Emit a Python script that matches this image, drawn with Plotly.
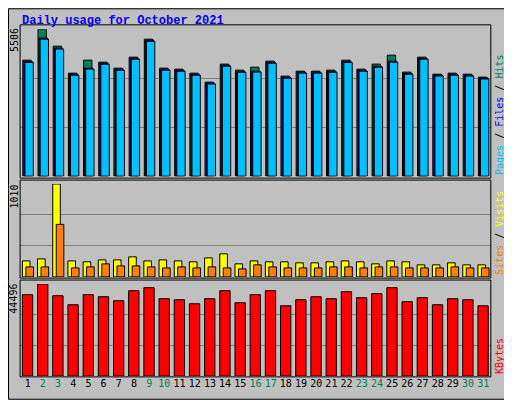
import plotly.graph_objects as go

days = list(range(1, 32))
weekend = [2, 3, 9, 10, 16, 17, 23, 24, 30, 31]

hits = [4345, 5506, 4870, 3858, 4345, 4270, 4046, 4458, 5132, 4046, 4008, 3858, 3521, 4195, 3971,
        4083, 4308, 3746, 3933, 3933, 3971, 4345, 4008, 4195, 4533, 3896, 4458, 3821, 3858, 3821, 3709]
files = [4300, 5170, 4800, 3820, 4046, 4230, 4010, 4420, 5090, 4010, 3970, 3820, 3490, 4160, 3930,
         3933, 4270, 3710, 3900, 3900, 3930, 4300, 3970, 4120, 4308, 3860, 4420, 3790, 3820, 3790, 3680]
pages = [4260, 5130, 4760, 3780, 4010, 4190, 3970, 4380, 5050, 3970, 3930, 3780, 3450, 4120, 3890,
         3900, 4230, 3670, 3860, 3860, 3890, 4260, 3930, 4080, 4270, 3820, 4380, 3750, 3780, 3750, 3640]
visits = [174, 196, 1010, 174, 164, 185, 185, 218, 174, 185, 174, 164, 207, 251, 142,
          174, 164, 164, 153, 153, 164, 174, 164, 142, 174, 164, 131, 131, 153, 131, 131]
sites = [109, 109, 571, 98, 109, 142, 120, 120, 109, 98, 109, 98, 109, 98, 87,
         131, 109, 98, 98, 98, 109, 109, 98, 109, 109, 98, 98, 98, 109, 98, 98]
kbytes = [39301, 44496, 38816, 34449, 39301, 38331, 36390, 41242, 42698, 37360, 36875, 34934, 37360,
          41242, 35420, 39301, 41242, 33964, 36875, 38331, 37360, 40757, 37846, 39786, 42698, 35905,
          37846, 34449, 37360, 36875, 33964]

mono = "DejaVu Sans Mono"
line = dict(color="black", width=1)

fig = go.Figure()

def bars(y, color, offset, width, xa, ya):
    fig.add_trace(go.Bar(x=days, y=y, marker=dict(color=color, line=line),
                         offset=offset, width=width, xaxis=xa, yaxis=ya))

# top panel: hits / files / pages
bars(hits, "#00805c", -0.32, 0.55, "x", "y")
bars(files, "#0000ff", -0.25, 0.55, "x", "y")
bars(pages, "#00c0ff", -0.18, 0.55, "x", "y")
# middle panel: visits / sites
bars(visits, "#ffff00", -0.35, 0.5, "x2", "y2")
bars(sites, "#ff8000", -0.12, 0.5, "x2", "y2")
# bottom panel: kbytes
bars(kbytes, "#ff0000", -0.35, 0.68, "x3", "y3")

ticktext = [f"<span style='color:#00805c'>{d}</span>" if d in weekend else str(d) for d in days]

xdom = [0.024, 0.958]
xbase = dict(range=[0.5, 31.5], domain=xdom, showgrid=False, zeroline=False,
             showticklabels=False, ticks="")
fig.update_layout(
    xaxis=dict(xbase, anchor="y"),
    xaxis2=dict(xbase, anchor="y2"),
    xaxis3=dict(xbase, anchor="y3", showticklabels=True, tickvals=days, ticktext=ticktext,
                tickangle=0, tickfont=dict(family=mono, size=10, color="black")),
    yaxis=dict(domain=[0.571, 0.946], range=[0, max(hits)],
               tickvals=[max(hits) / 3, 2 * max(hits) / 3], showticklabels=False,
               gridcolor="#808080", zeroline=False),
    yaxis2=dict(domain=[0.314, 0.551], range=[0, max(visits)],
                tickvals=[max(visits) / 3, 2 * max(visits) / 3], showticklabels=False,
                gridcolor="#808080", zeroline=False),
    yaxis3=dict(domain=[0.061, 0.296], range=[0, max(kbytes)],
                tickvals=[max(kbytes) / 3, 2 * max(kbytes) / 3], showticklabels=False,
                gridcolor="#808080", zeroline=False),
    barmode="overlay",
    showlegend=False,
    width=504, height=392,
    margin=dict(l=0, r=0, t=0, b=0),
    paper_bgcolor="#c0c0c0", plot_bgcolor="#c0c0c0",
)

# frames
shapes = [dict(type="rect", xref="paper", yref="paper", x0=0.001, x1=0.999, y0=0.002, y1=0.998,
               line=dict(color="black", width=1))]
for y0, y1 in [(0.566, 0.957), (0.311, 0.561), (0.059, 0.306)]:
    shapes.append(dict(type="rect", xref="paper", yref="paper", x0=xdom[0], x1=xdom[1], y0=y0, y1=y1,
                       line=dict(color="black", width=1)))
fig.update_layout(shapes=shapes)

small = dict(family=mono, size=10, color="black")
ann = [
    dict(x=0.024, y=0.99, text="<b>Daily usage for October 2021</b>", xanchor="left", yanchor="top",
         font=dict(family="Liberation Mono", size=12, color="#0000ff")),
    dict(x=0.012, y=0.954, text="5506", textangle=-90, xanchor="center", yanchor="top", font=small),
    dict(x=0.012, y=0.555, text="1010", textangle=-90, xanchor="center", yanchor="top", font=small),
    dict(x=0.012, y=0.302, text="44496", textangle=-90, xanchor="center", yanchor="top", font=small),
    dict(x=0.975, y=0.57, text="<span style='color:#00c0ff'>Pages</span> / "
         "<span style='color:#0000ff'>Files</span> / <span style='color:#00805c'>Hits</span>",
         textangle=-90, xanchor="center", yanchor="bottom", font=small),
    dict(x=0.975, y=0.315, text="<span style='color:#ff8000'>Sites</span> / "
         "<span style='color:#ffff00'>Visits</span>",
         textangle=-90, xanchor="center", yanchor="bottom", font=small),
    dict(x=0.975, y=0.062, text="KBytes", textangle=-90, xanchor="center", yanchor="bottom",
         font=dict(family=mono, size=10, color="#ff0000")),
]
for a in ann:
    a.update(xref="paper", yref="paper", showarrow=False)
fig.update_layout(annotations=ann)

fig.write_html("out.html")
